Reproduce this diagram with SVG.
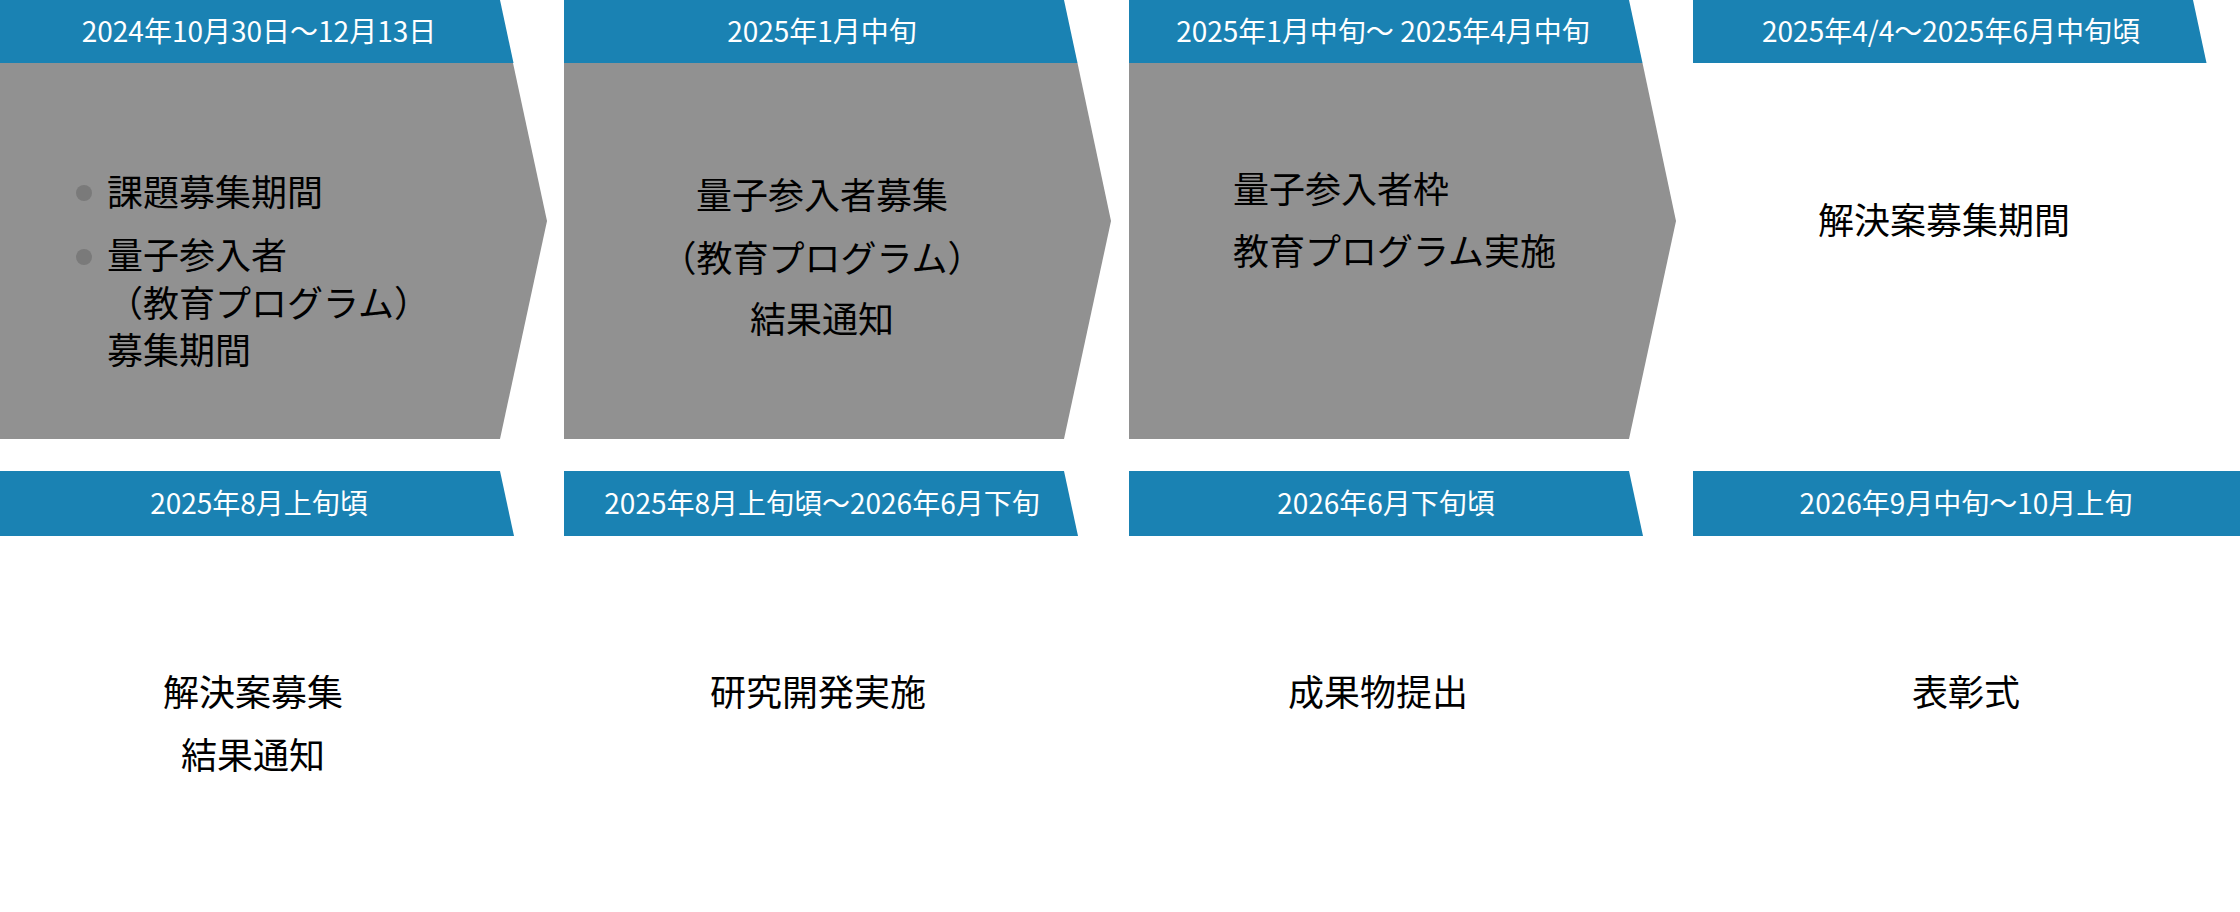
<svg xmlns="http://www.w3.org/2000/svg" width="2240" height="912" viewBox="0 0 2240 912">
<style>
.bn{fill:#1a82b3}
.gy{fill:#919191}
.bt{font-family:"Noto Sans CJK JP","Noto Sans",sans-serif;font-size:28px;font-weight:400;fill:#ffffff;text-anchor:middle}
.tx{font-family:"Noto Sans CJK JP","Noto Sans",sans-serif;font-size:36px;fill:#000000}
.c{text-anchor:middle}
.dot{fill:#7a7a7a}
</style>
<rect x="0" y="0" width="2240" height="912" fill="#ffffff"/>
<g id="step1">
<polygon class="gy" points="0,63 513,63 547,221 500,439 0,439"/>
<polygon class="bn" points="0,0 500,0 513.5,63 0,63"/>
<text class="bt" x="259" y="42">2024年10月30日～12月13日</text>
<circle class="dot" cx="84" cy="193" r="8"/>
<circle class="dot" cx="84" cy="257" r="8"/>
<text class="tx" x="107" y="206">課題募集期間</text>
<text class="tx" x="107" y="269">量子参入者</text>
<text class="tx" x="107" y="317">（教育プログラム）</text>
<text class="tx" x="107" y="364">募集期間</text>
</g>
<g id="step2">
<polygon class="gy" points="564,63 1077.5,63 1111,221 1064,439 564,439"/>
<polygon class="bn" points="564,0 1064,0 1077.5,63 564,63"/>
<text class="bt" x="822" y="42">2025年1月中旬</text>
<text class="tx c" x="822" y="209">量子参入者募集</text>
<text class="tx c" x="822" y="272">（教育プログラム）</text>
<text class="tx c" x="822" y="333">結果通知</text>
</g>
<g id="step3">
<polygon class="gy" points="1129,63 1642.5,63 1676,221 1629,439 1129,439"/>
<polygon class="bn" points="1129,0 1629,0 1642.5,63 1129,63"/>
<text class="bt" x="1383" y="42">2025年1月中旬～ 2025年4月中旬</text>
<text class="tx" x="1233" y="203">量子参入者枠</text>
<text class="tx" x="1233" y="265">教育プログラム実施</text>
</g>
<g id="step4">
<polygon class="bn" points="1693,0 2193,0 2206.5,63 1693,63"/>
<text class="bt" x="1951" y="42">2025年4/4～2025年6月中旬頃</text>
<text class="tx c" x="1944" y="234">解決案募集期間</text>
</g>
<g id="step5">
<polygon class="bn" points="0,471 500,471 514,536 0,536"/>
<text class="bt" x="259" y="514">2025年8月上旬頃</text>
<text class="tx c" x="253" y="706">解決案募集</text>
<text class="tx c" x="253" y="769">結果通知</text>
</g>
<g id="step6">
<polygon class="bn" points="564,471 1064,471 1078,536 564,536"/>
<text class="bt" x="822" y="514">2025年8月上旬頃～2026年6月下旬</text>
<text class="tx c" x="818" y="706">研究開発実施</text>
</g>
<g id="step7">
<polygon class="bn" points="1129,471 1629,471 1643,536 1129,536"/>
<text class="bt" x="1386" y="514">2026年6月下旬頃</text>
<text class="tx c" x="1378" y="706">成果物提出</text>
</g>
<g id="step8">
<polygon class="bn" points="1693,471 2240,471 2240,536 1693,536"/>
<text class="bt" x="1966" y="514">2026年9月中旬～10月上旬</text>
<text class="tx c" x="1966" y="706">表彰式</text>
</g>
<g id="connectors"/>
</svg>
